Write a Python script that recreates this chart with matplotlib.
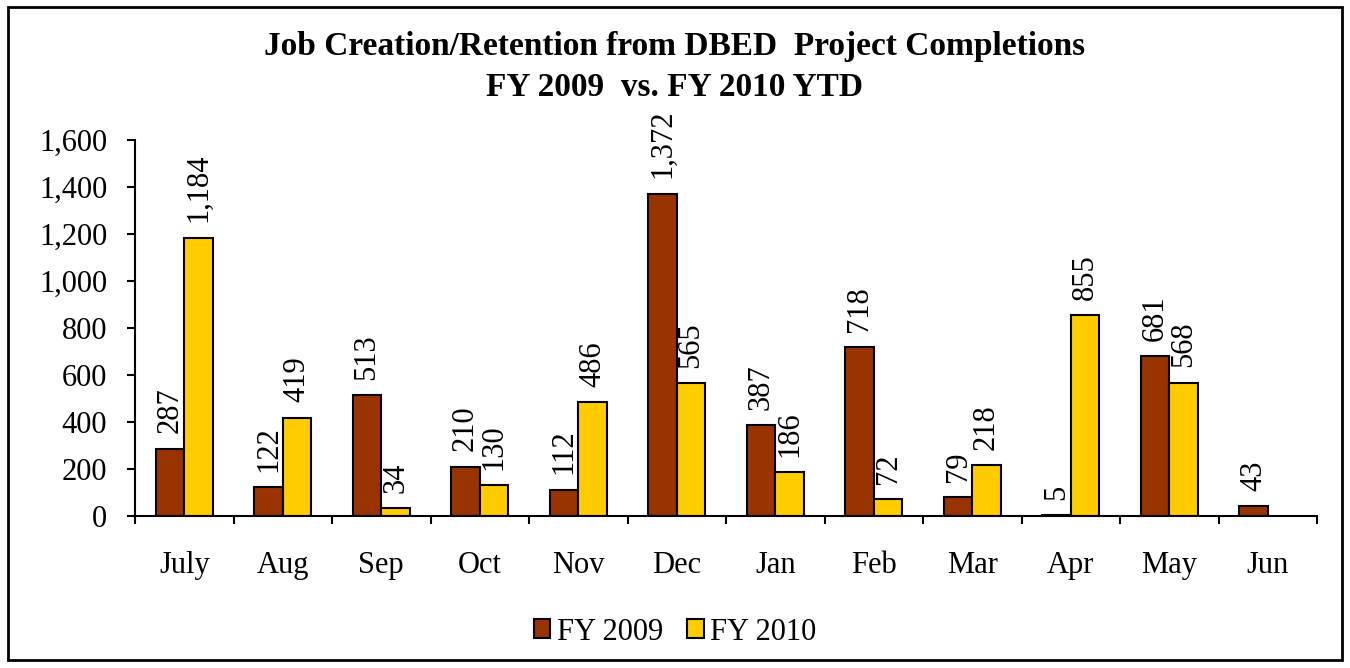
import matplotlib
matplotlib.use("Agg")
import matplotlib.pyplot as plt
import numpy as np
from matplotlib.patches import Rectangle

plt.rcParams['font.family'] = ['Liberation Serif', 'DejaVu Serif']

months = ['July', 'Aug', 'Sep', 'Oct', 'Nov', 'Dec', 'Jan', 'Feb', 'Mar', 'Apr', 'May', 'Jun']
fy2009 = [287, 122, 513, 210, 112, 1372, 387, 718, 79, 5, 681, 43]
fy2010 = [1184, 419, 34, 130, 486, 565, 186, 72, 218, 855, 568, None]
yticks = [0, 200, 400, 600, 800, 1000, 1200, 1400, 1600]

fig = plt.figure(figsize=(13.5, 6.68), dpi=100)
ax = fig.add_axes([0.1, 0.2275, 0.8756, 0.5629])

x = np.arange(len(months))
w = 0.29
v10 = [np.nan if v is None else v for v in fy2010]
b1 = ax.bar(x - w/2, fy2009, w, color='#993300', edgecolor='black', linewidth=1.5, label='FY 2009')
b2 = ax.bar(x + w/2, v10, w, color='#FFCC00', edgecolor='black', linewidth=1.5, label='FY 2010')

# value labels, rotated, above each bar
for bars, vals in ((b1, fy2009), (b2, fy2010)):
    for r, v in zip(bars, vals):
        if v is None:
            continue
        ax.annotate(f'{v:,}', (r.get_x() + r.get_width()/2, v), xytext=(0, 11),
                    textcoords='offset points', rotation=90, ha='center', va='bottom',
                    fontsize=22, annotation_clip=False)

ax.set_xlim(-0.5, len(months) - 0.5)
ax.set_ylim(0, 1600)
ax.set_yticks(yticks)
ax.set_yticklabels([f'{t:,}' for t in yticks], fontsize=22)
ax.set_xticks(x)
ax.set_xticklabels(months, fontsize=22)
ax.set_xticks(np.arange(-0.5, len(months)), minor=True)
ax.tick_params(axis='x', which='major', length=0, pad=25)
ax.tick_params(axis='x', which='minor', length=6, width=1.5, direction='out')
ax.tick_params(axis='y', length=6, width=1.5, direction='out', pad=14)
ax.spines['top'].set_visible(False)
ax.spines['right'].set_visible(False)
ax.spines['left'].set_linewidth(1.5)
ax.spines['bottom'].set_linewidth(1.5)

fig.text(0.5, 1 - 47/668, 'Job Creation/Retention from DBED  Project Completions',
         ha='center', va='center', fontsize=24, fontweight='bold')
fig.text(0.5, 1 - 87/668, 'FY 2009  vs. FY 2010 YTD',
         ha='center', va='center', fontsize=24, fontweight='bold')

fig.legend(handles=[b1, b2], loc='center', bbox_to_anchor=(0.5, 1 - 632/668), ncol=2, frameon=False,
           fontsize=22, handlelength=0.55, handleheight=0.55, handletextpad=0.2, columnspacing=0.8)

# outer border
fig.patches.append(Rectangle((0.006, 0.012), 0.988, 0.978, transform=fig.transFigure,
                             fill=False, edgecolor='black', linewidth=2))

fig.savefig('out.png', dpi=100)
